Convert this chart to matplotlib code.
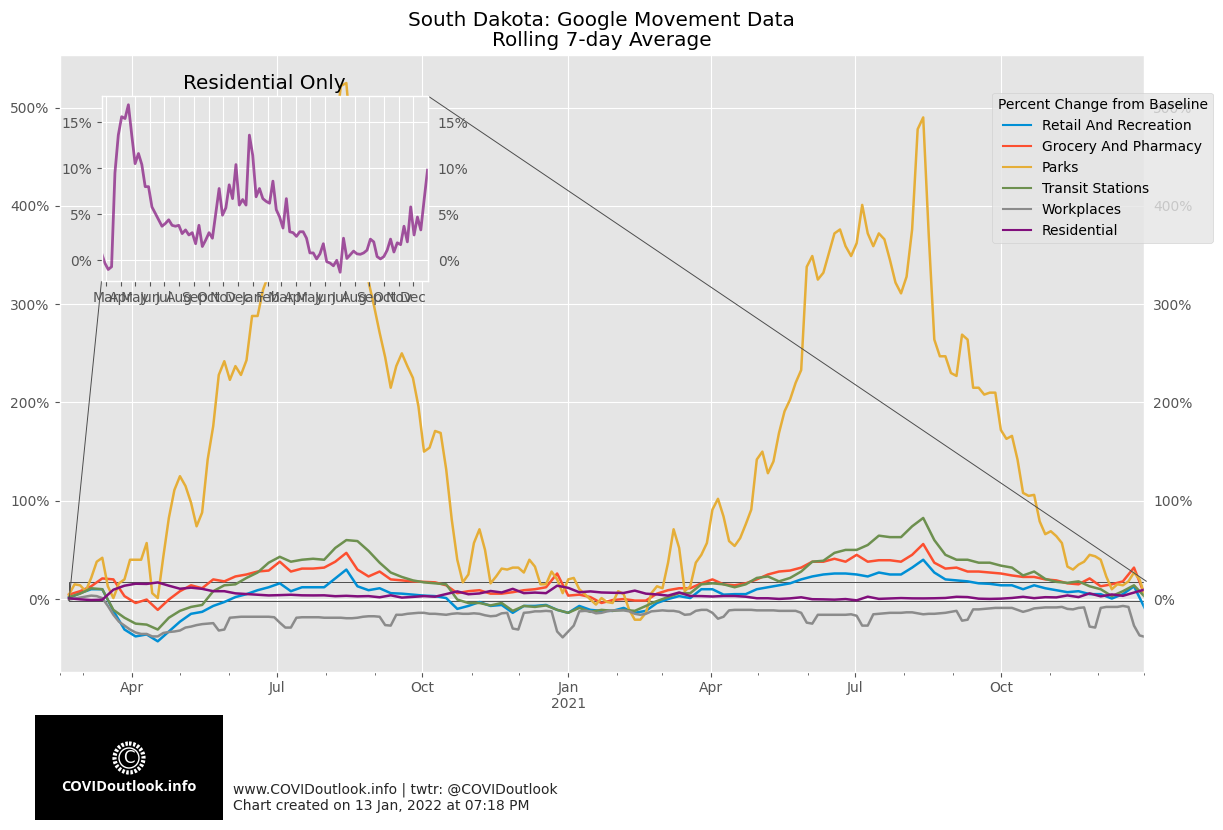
import matplotlib
matplotlib.use('Agg')
import matplotlib.pyplot as plt
import matplotlib.patches as patches
import pandas as pd
from mpl_toolkits.axes_grid1.inset_locator import mark_inset

# values, in percent, one point per week from 21 Feb 2020
retail = [1, 6, 10, 10, -12, -31, -38, -36, -43, -33, -23, -15, -13, -7, -3, 2, 5, 9, 12, 16,
          8, 12, 12, 12, 21, 30, 13, 9, 11, 6, 5.5, 4.5, 3.5, 3, 1, -10, -7, -3, -7, -6,
          -14, -7, -7, -6, -11, -14, -7, -11, -12, -12, -9, -14, -12, -4, 0, 3, 1, 10, 10, 4.5,
          5, 5, 10, 12, 14, 16, 20, 23, 25, 26, 26, 25, 23, 27, 25, 25, 32, 40, 27, 20,
          19, 18, 16, 15.5, 14, 14, 10, 14, 11, 9, 7, 8, 5, 5, 0.5, 5, 13, -10]
grocery = [4.5, 8, 13, 21, 20, 3, -4, -0.5, -11, -0.5, 8, 14, 11, 20, 18, 23, 25, 28, 29, 38,
           28, 31, 31, 32, 38, 47, 30, 23, 28, 20, 19, 18, 17.5, 17, 14, 6, 8, 9, 5.5, 5.5,
           7, 9, 10, 12, 26, 3.5, 4.5, 2, -4, -1, 0, -1.5, -1.5, 5.5, 9, 11, 11, 16, 20, 15,
           14, 16, 20, 25, 28, 29, 32, 38, 38, 41, 38, 45, 38, 39.5, 39.5, 38, 45, 56, 37, 31,
           32, 28, 28, 27, 26, 24, 22.5, 22.5, 20, 19, 16, 15, 21, 13, 15, 18, 32, 3]
transit = [2, 5.5, 11, 10, -11, -19, -25, -26, -31, -19, -12, -8, -6, 8, 14, 15, 21.5, 27, 37, 43,
           38, 40, 41, 40, 52, 60, 59, 49, 37, 27, 22.5, 19, 17, 16, 15, -0.5, -4, -4, -6.5, -4,
           -12, -7, -8, -6.5, -11, -14, -9, -13, -11, -12, -11, -12, -7, -2, 2, 6, 6, 15, 16, 15,
           12, 15, 21.5, 23, 18, 21.5, 28, 38, 39, 47, 50, 50, 55, 64.5, 63, 63, 74, 82.5, 60, 45,
           40, 40, 37, 37, 34, 32, 24, 28, 20.5, 17.5, 16.5, 18, 13, 10, 3, 8, 14, 2]
residential = [0.8, -0.3, -1, -0.7, 9.5, 13.6, 15.6, 15.4, 16.9, 13.6, 10.5, 11.6, 10.4, 8, 8, 5.8, 5.1, 4.4, 3.7, 4,
               4.4, 3.8, 3.7, 3.8, 2.9, 3.3, 2.75, 3, 1.8, 3.8, 1.5, 2.2, 3, 2.4, 5.1, 7.8, 4.9, 5.7, 8.2, 6.7,
               10.4, 6, 6.6, 6, 13.6, 11.4, 6.9, 7.8, 6.7, 6.4, 6.2, 8.6, 5.5, 4.7, 3.5, 6.7, 3.1, 3, 2.6, 3.1,
               3.1, 2.4, 0.8, 0.8, 0.15, 0.7, 1.8, -0.15, -0.3, -0.6, 0, -1.3, 2.4, 0.2, 0.6, 1, 0.7, 0.65, 0.8, 1.1,
               2.3, 2, 0.4, 0.15, 0.4, 1.1, 2.3, 0.9, 1.9, 1.7, 3.7, 2, 5.8, 2.75, 4.7, 3.3, 6.6, 9.8]
# parks and workplaces have sharper moves so they get two points a week
parks = [4.5, 15, 14, 8, 21.5, 38, 42, 13, 1, 16, 20, 40, 40, 40, 57, 6, 1, 43, 82.5, 111,
         125, 115, 98, 74, 88, 142, 176, 228, 242, 223, 237, 228, 243, 288, 288, 315, 330, 345, 370, 390,
         410, 430, 440, 455, 450, 465, 480, 495, 470, 522, 525, 460, 430, 400, 323, 298, 271, 246, 215, 237,
         250, 237, 225, 196, 150, 154, 171, 169, 132, 81, 40, 17, 25, 57, 71, 50, 16, 23, 31, 30,
         32, 32, 27, 40, 33, 15, 15, 28, 20, 6, 20, 21.5, 10, 5, -0.5, -5.6, 1, -3, -4, 8,
         5, -11, -21, -21, -14, 6, 13, 11, 37, 71, 52, 8, 13, 37, 45, 57, 91, 102, 84, 59,
         54, 62, 76, 91, 142, 150, 128, 140, 169, 191, 203, 220, 233, 338, 349, 325, 332, 352, 372, 376,
         359, 349, 362, 401, 372, 359, 372, 366, 345, 322, 311, 328, 376, 478, 490, 370, 264, 247, 247, 230,
         227, 269, 264, 215, 215, 208, 210, 210, 172, 163, 166, 142, 108, 105, 106, 79, 66, 69, 64, 57,
         33, 30, 35, 38, 45, 43.5, 40, 23, 10, 15, 14, 18, 27, 20, 3]
workplaces = [-0.5, 0.5, 1.5, 2.5, 3.5, 3, 1, -7, -16, -23, -27, -31, -34, -35.5, -35.5, -38, -38, -34.5, -33.5, -33,
              -32, -29, -28, -26.5, -25.5, -25, -24.5, -32, -31, -19, -18.5, -18, -18, -18, -18, -18, -18, -18.5, -24, -29,
              -29, -19, -18.5, -18.5, -18.5, -18.5, -19, -19, -19, -19, -19.5, -19.5, -19, -18, -17.5, -17.5, -18, -26.5, -27, -16,
              -16, -15, -14.5, -14, -14, -15, -15, -15.5, -16, -15, -14.5, -15, -15, -14.5, -15, -16.5, -17.5, -17, -14.5, -14,
              -30, -31, -14, -13.5, -12.5, -12.5, -12, -12.5, -33, -39, -33, -27, -12.5, -12, -12.5, -14.5, -14, -12.5, -11.5, -11.5,
              -11.5, -12.5, -15, -16, -15, -12.5, -12, -11.5, -12, -12, -13, -16, -15.5, -12, -11, -11, -14, -20, -18, -11.5,
              -11, -11, -11, -11, -11.5, -11.5, -11.5, -11.5, -12, -12, -12, -12, -14, -24, -25, -16, -16, -16, -16, -16,
              -16, -15.5, -17, -27, -27, -15.5, -15, -14.5, -14, -14, -14, -13.5, -13.5, -14.5, -15.5, -15, -15, -14.5, -14, -13,
              -12, -22, -21, -10.5, -10.5, -10, -9.5, -9, -9, -9, -9, -11, -13, -11.5, -9.5, -9, -8.5, -8.5, -8.5, -8,
              -10, -10.5, -9, -8.5, -28, -29, -9, -8, -8, -8, -7, -8, -27, -37, -38.5]

series_names = ['Retail And Recreation', 'Grocery And Pharmacy', 'Parks',
                'Transit Stations', 'Workplaces', 'Residential']
colors = ['#008FD5', '#FC4F30', '#E5AE38', '#6D904F', '#8B8B8B', '#810F7C']

main_yticks = [0, 100, 200, 300, 400, 500]
inset_yticks = [0, 5, 10, 15]

weekly = pd.date_range('2020-02-21', periods=len(retail), freq='7D')
twice_weekly = pd.date_range('2020-02-21', periods=len(parks), freq='84h')
twice_weekly_wp = pd.date_range('2020-02-21', periods=len(workplaces), freq='84h')

plt.style.use('ggplot')
W, H = 1223, 830
fig = plt.figure(figsize=(W / 100, H / 100), dpi=100, facecolor='white')


def px_axes(x0, y0, x1, y1):
    # axes from picture pixels (y going down)
    return fig.add_axes([x0 / W, 1 - y1 / H, (x1 - x0) / W, (y1 - y0) / H])


ax = px_axes(59.5, 55.5, 1143.5, 671.5)
all_dates = [weekly, weekly, twice_weekly, weekly, twice_weekly_wp, weekly]
all_values = [retail, grocery, parks, transit, workplaces, residential]
for name, c, d, v in zip(series_names, colors, all_dates, all_values):
    ax.plot(d, v, color=c, lw=1.8, label=name)

ax.set_xlim(pd.Timestamp('2020-02-15'), pd.Timestamp('2021-12-30'))
ax.set_ylim(-73.7, 553)
ax.set_yticks(main_yticks)
ax.set_yticklabels(['%d%%' % t for t in main_yticks])
ax.tick_params(axis='y', labelright=True, labelsize=10)

major = pd.to_datetime(['2020-04-01', '2020-07-01', '2020-10-01', '2021-01-01',
                        '2021-04-01', '2021-07-01', '2021-10-01'])
minor = pd.date_range('2020-03-01', '2021-12-01', freq='MS').difference(major)
minor = minor.append(pd.to_datetime(['2020-02-15', '2021-12-30']))
ax.set_xticks(major)
ax.set_xticklabels(['Apr', 'Jul', 'Oct', 'Jan\n2021', 'Apr', 'Jul', 'Oct'], fontsize=10)
ax.set_xticks(minor, minor=True)
ax.grid(True, which='major')
ax.grid(False, which='minor')
ax.set_title('South Dakota: Google Movement Data\nRolling 7-day Average',
             fontsize=14.4, color='black', pad=6.5, linespacing=1.1)

leg = ax.legend(title='Percent Change from Baseline', loc='upper left', fontsize=10,
                bbox_to_anchor=(992 / W, 1 - 92.5 / H), bbox_transform=fig.transFigure,
                borderaxespad=0)
for line in leg.get_lines():
    line.set_linewidth(1.5)

# residential inset
axins = px_axes(101.5, 96, 428, 281)
axins.plot(weekly, residential, color=colors[5], lw=2, alpha=0.7)
axins.set_xlim(pd.Timestamp('2020-02-21'), pd.Timestamp('2022-01-01'))
axins.set_ylim(-2.25, 17.85)
axins.set_yticks(inset_yticks)
axins.set_yticklabels(['%d%%' % t for t in inset_yticks], fontsize=10)
axins.tick_params(axis='y', labelright=True)
months = pd.date_range('2020-03-01', '2021-12-01', freq='MS')
axins.set_xticks(months)
axins.set_xticklabels([m.strftime('%b') for m in months], fontsize=10)
axins.set_title('Residential Only', fontsize=14.4, color='black', pad=5)
mark_inset(ax, axins, loc1=1, loc2=3, fc='none', ec='0.3', lw=0.7)

# logo block, drawn in its own pixel space
logo = px_axes(35, 715, 223, 820)
logo.set_xlim(0, 188)
logo.set_ylim(105, 0)
logo.set_facecolor('black')
logo.set_xticks([])
logo.set_yticks([])
logo.grid(False)
for s in logo.spines.values():
    s.set_visible(False)
logo.add_patch(patches.Circle((94, 43), 14.5, fill=False, ec='white', lw=3, ls=(0, (0.6, 0.4))))
logo.add_patch(patches.Circle((94, 43), 10, fill=False, ec='white', lw=1))
logo.text(94, 43, 'C', color='white', fontsize=12, ha='center', va='center')
logo.text(94, 72, 'COVIDoutlook.info', color='white', fontsize=10.5, fontweight='bold',
          family='Open Sans', ha='center', va='center')

fig.text(233 / W, 1 - 813 / H, 'www.COVIDoutlook.info | twtr: @COVIDoutlook\nChart created on 13 Jan, 2022 at 07:18 PM',
         fontsize=10, color='#262626', ha='left', va='bottom')

plt.savefig('out.png', dpi=100, facecolor='white')
